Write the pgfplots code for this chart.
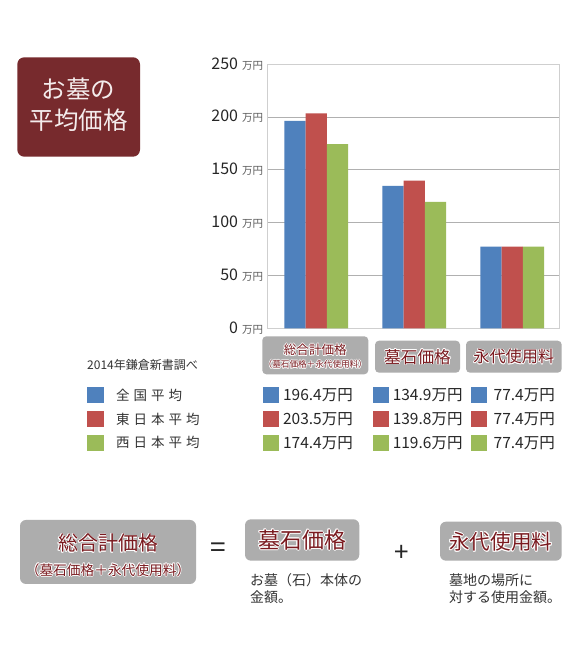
\documentclass[border=0pt]{standalone}
\usepackage{pgfplots}
\pgfplotsset{compat=1.18}
\usepackage{fontspec}
\setmainfont{Noto Sans CJK JP}

\definecolor{zenkoku}{HTML}{4F81BD}
\definecolor{higashi}{HTML}{C0504D}
\definecolor{nishi}{HTML}{9BBB59}
\definecolor{titlered}{HTML}{772A2D}
\definecolor{titletext}{HTML}{F4ECEC}
\definecolor{boxgray}{HTML}{ADADAD}
\definecolor{catred}{HTML}{7A1A1F}
\definecolor{gridgray}{HTML}{B0B0B0}
\definecolor{bordergray}{HTML}{CFCFCF}
\definecolor{textgray}{HTML}{333333}

\newcommand\fs[1]{\fontsize{#1}{#1}\selectfont}
\newcommand\tu{\hspace{4pt}{\fs{10.5}\color{textgray!80}万円}}
% dark red text with a white halo
\newcommand\halo[3]{%
  \foreach \dx/\dy in {0.8/0,-0.8/0,0/0.8,0/-0.8,0.56/0.56,0.56/-0.56,-0.56/0.56,-0.56/-0.56}
    \node[text=white, font=\fs{#2}, inner sep=0pt, xshift=\dx pt, yshift=\dy pt] at (#1) {#3};
  \node[text=catred, font=\fs{#2}, inner sep=0pt] at (#1) {#3};}

\begin{document}
\begin{tikzpicture}[x=1pt,y=1pt]
\path[use as bounding box] (0,0) rectangle (585,652);
\fill[white] (0,0) rectangle (585,652);

% title
\fill[titlered, rounded corners=7pt] (17.3,495.3) rectangle (140,594.7);
\node[text=titletext, font=\fs{24.5}] at (78.6,563) {お墓の};
\node[text=titletext, font=\fs{24.5}] at (78.6,532) {平均価格};

\begin{axis}[
  at={(267.7pt,323.7pt)}, anchor=south west,
  scale only axis, width=291.6pt, height=264pt,
  ybar=0pt, bar width=21.3pt,
  xmin=-0.495, xmax=2.48, ymin=0, ymax=250,
  xtick=\empty,
  ytick={0,50,100,150,200,250},
  yticklabels={{0\tu},{50\tu},{100\tu},{150\tu},{200\tu},{250\tu}},
  yticklabel style={font=\fs{16}, text=black!85, anchor=east, inner sep=0pt, xshift=-4.4pt, yshift=0.5pt},
  major tick length=0pt,
  ymajorgrids,
  grid style={draw=gridgray, line width=0.8pt},
  axis line style={draw=bordergray, line width=0.8pt},
]
\addplot[fill=zenkoku, draw=none] coordinates {(0,196.4) (1,134.9) (2,77.4)};
\addplot[fill=higashi, draw=none] coordinates {(0,203.5) (1,139.8) (2,77.4)};
\addplot[fill=nishi, draw=none] coordinates {(0,174.4) (1,119.6) (2,77.4)};
\end{axis}

% category boxes under the axis
\fill[boxgray, rounded corners=4pt] (262.3,277.7) rectangle (368.3,315.7);
\fill[boxgray, rounded corners=4pt] (375,279.3) rectangle (460,311.3);
\fill[boxgray, rounded corners=4pt] (466,279.3) rectangle (561.7,311.3);
\halo{315.3,302}{12.6}{総合計価格}
\halo{315.3,287.5}{8.6}{（墓石価格＋永代使用料）}
\halo{417.5,295.3}{16.7}{墓石価格}
\halo{513.8,295.3}{16.2}{永代使用料}

% legend
\node[anchor=west, text=textgray, font=\fs{12}, inner sep=0pt] at (87,287) {2014年鎌倉新書調べ};
\fill[zenkoku] (87.3,248.5) rectangle (104,264.5);
\fill[higashi] (87.3,224.7) rectangle (104,240.7);
\fill[nishi] (87.3,201.3) rectangle (104,217.3);
\node[anchor=west, text=textgray, font=\fs{13.5}, inner sep=0pt] at (116,256.5) {全\hspace{4pt}国\hspace{4pt}平\hspace{4pt}均};
\node[anchor=west, text=textgray, font=\fs{13.5}, inner sep=0pt] at (116,232.7) {東\hspace{4pt}日\hspace{4pt}本\hspace{4pt}平\hspace{4pt}均};
\node[anchor=west, text=textgray, font=\fs{13.5}, inner sep=0pt] at (116,209.3) {西\hspace{4pt}日\hspace{4pt}本\hspace{4pt}平\hspace{4pt}均};

% value table
\foreach \sx in {263.3, 373.3, 470.7} {
  \fill[zenkoku] (\sx,248.5) rectangle ({\sx+16},264.5);
  \fill[higashi] (\sx,224.7) rectangle ({\sx+16},240.7);
  \fill[nishi] (\sx,201.3) rectangle ({\sx+16},217.3);
}
\tikzset{val/.style={anchor=east, text=black!85, font=\fs{15.5}, inner sep=0pt}}
\node[val] at (353,256.5) {196.4万円};
\node[val] at (353,232.7) {203.5万円};
\node[val] at (353,209.3) {174.4万円};
\node[val] at (462.7,256.5) {134.9万円};
\node[val] at (462.7,232.7) {139.8万円};
\node[val] at (462.7,209.3) {119.6万円};
\node[val] at (555,256.5) {77.4万円};
\node[val] at (555,232.7) {77.4万円};
\node[val] at (555,209.3) {77.4万円};

% formula at the bottom
\fill[boxgray, rounded corners=6pt] (20,68) rectangle (196,132);
\halo{108,108.7}{20}{総合計価格}
\halo{108,82}{13.7}{（墓石価格＋永代使用料）}
\node[text=black!85, font=\fs{28}] at (218,102) {=};
\fill[boxgray, rounded corners=6pt] (245,91.3) rectangle (359.3,132.7);
\halo{302.2,112}{22}{墓石価格}
\node[text=black!85, font=\fs{26}] at (401.7,98.7) {+};
\fill[boxgray, rounded corners=6pt] (440,91.3) rectangle (561.7,130.3);
\halo{500.8,110.3}{20.6}{永代使用料}
\tikzset{desc/.style={anchor=west, text=textgray, font=\fs{14}, inner sep=0pt}}
\node[desc] at (250,72) {お墓（石）本体の};
\node[desc] at (250,54.7) {金額。};
\node[desc] at (449,72) {墓地の場所に};
\node[desc] at (449,54.7) {対する使用金額。};
\end{tikzpicture}
\end{document}
